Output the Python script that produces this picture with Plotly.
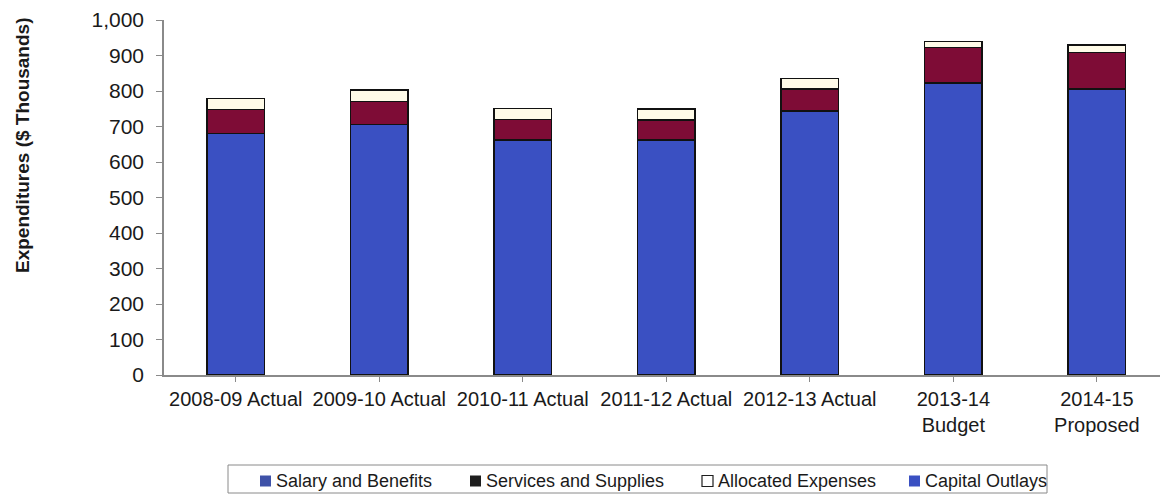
import plotly.graph_objects as go

# Fiscal-year categories (line breaks for the two-line labels)
categories = [
    "2008-09 Actual",
    "2009-10 Actual",
    "2010-11 Actual",
    "2011-12 Actual",
    "2012-13 Actual",
    "2013-14<br>Budget",
    "2014-15<br>Proposed",
]

# Expenditures in $ thousands
salary_benefits = [680, 705, 662, 662, 744, 822, 805]
services_supplies = [68, 65, 58, 57, 62, 100, 103]
allocated_expenses = [31, 33, 31, 30, 29, 17, 22]
capital_outlays = [0, 0, 0, 0, 0, 0, 0]

y_ticks = [0, 100, 200, 300, 400, 500, 600, 700, 800, 900, 1000]

BLUE = "#3a50c2"
MAROON = "#7e0c36"
CREAM = "#fffbe8"
FONT = "Arial, Liberation Sans, sans-serif"

W, H = 1160, 497
ML, MR, MT, MB = 164, 0, 20, 122
PW, PH = W - ML - MR, H - MT - MB


def px_x(px):
    return (px - ML) / PW


def px_y(py):
    return (H - MB - py) / PH


x = list(range(len(categories)))
line = dict(color="#111111", width=1.5)

fig = go.Figure()
fig.add_bar(x=x, y=salary_benefits, name="Salary and Benefits",
            marker=dict(color=BLUE, line=line), width=0.4)
fig.add_bar(x=x, y=services_supplies, name="Services and Supplies",
            marker=dict(color=MAROON, line=line), width=0.4)
fig.add_bar(x=x, y=allocated_expenses, name="Allocated Expenses",
            marker=dict(color=CREAM, line=line), width=0.4)
fig.add_bar(x=x, y=capital_outlays, name="Capital Outlays",
            marker=dict(color=BLUE, line=dict(width=0)), width=0.4)

fig.update_layout(
    barmode="stack",
    width=W, height=H,
    margin=dict(l=ML, r=MR, t=MT, b=MB, pad=0),
    paper_bgcolor="white",
    plot_bgcolor="white",
    showlegend=False,
    font=dict(family=FONT, color="#1a1a1a"),
)

fig.update_xaxes(
    tickmode="array", tickvals=x, ticktext=categories,
    range=[-0.5, 6.44],
    tickangle=0,
    showline=True, linecolor="#8a8a8a", linewidth=1.5,
    ticks="outside", tickson="boundaries", ticklen=5, tickcolor="#8a8a8a",
    showgrid=False, zeroline=False,
    tickfont=dict(size=20, family=FONT, color="#1a1a1a"),
)

fig.update_yaxes(
    range=[0, 1000],
    tickvals=y_ticks, tickformat=",",
    showline=True, linecolor="#8a8a8a", linewidth=1.5,
    ticks="outside", ticklen=6, tickcolor="#8a8a8a",
    ticklabelstandoff=8,
    showgrid=False, zeroline=False,
    tickfont=dict(size=21, family=FONT, color="#1a1a1a"),
)

# Axis title placed as a rotated annotation
fig.add_annotation(
    text="<b>Expenditures ($ Thousands)</b>",
    xref="paper", yref="paper",
    x=px_x(22), y=px_y(146),
    textangle=-90, showarrow=False,
    xanchor="center", yanchor="middle",
    font=dict(size=19, family=FONT, color="#1a1a1a"),
)

# Legend box drawn underneath the axis
shapes = [dict(type="rect", xref="paper", yref="paper",
               x0=px_x(228), x1=px_x(1047), y0=px_y(493), y1=px_y(465),
               line=dict(color="#8a8a8a", width=1), fillcolor="white")]

legend_items = [
    ("Salary and Benefits", 260, "#3f52a8", None),
    ("Services and Supplies", 470, "#1e1e1e", None),
    ("Allocated Expenses", 702, "white", "#1e1e1e"),
    ("Capital Outlays", 909, "#3a50c2", None),
]
for label, sx, fill, border in legend_items:
    shapes.append(dict(
        type="rect", xref="paper", yref="paper",
        x0=px_x(sx), x1=px_x(sx + 11), y0=px_y(486.5), y1=px_y(475.5),
        fillcolor=fill,
        line=dict(color=border or fill, width=1.2 if border else 0),
    ))
    fig.add_annotation(
        text=label, xref="paper", yref="paper",
        x=px_x(sx + 14), y=px_y(481),
        xanchor="left", yanchor="middle", showarrow=False,
        font=dict(size=18, family=FONT, color="#1a1a1a"),
    )

fig.update_layout(shapes=shapes)

fig.write_html("out.html")
